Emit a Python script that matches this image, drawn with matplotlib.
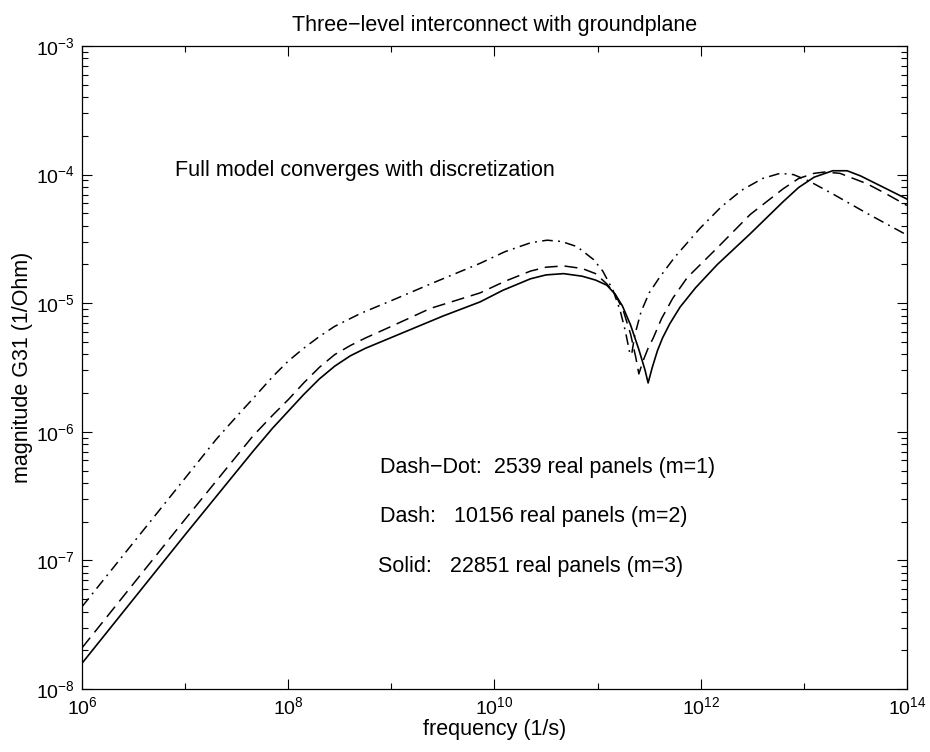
import numpy as np
import matplotlib
matplotlib.use("Agg")
import matplotlib.pyplot as plt
from matplotlib.ticker import LogLocator, NullFormatter, FixedLocator

# log10 of frequency (1/s) and log10 of |G31| (1/Ohm)
solid_logf = [6.0, 7.0, 7.66, 7.85, 8.0, 8.15, 8.3, 8.45, 8.6, 8.75, 8.9, 9.2, 9.5,
              9.86, 10.08, 10.35, 10.5, 10.67, 10.85, 10.98, 11.09, 11.17, 11.24,
              11.32, 11.4, 11.46, 11.49, 11.53, 11.58, 11.63, 11.7, 11.8, 11.95,
              12.16, 12.48, 12.8, 12.95, 13.1, 13.28, 13.42, 13.55, 13.75, 14.0]
solid_logg = [-7.8, -6.8, -6.15, -5.97, -5.84, -5.71, -5.59, -5.49, -5.41, -5.35, -5.3, -5.2, -5.1,
              -4.99, -4.9, -4.81, -4.78, -4.77, -4.79, -4.82, -4.86, -4.93, -5.02,
              -5.17, -5.36, -5.52, -5.62, -5.5, -5.37, -5.27, -5.16, -5.03, -4.88,
              -4.7, -4.46, -4.21, -4.1, -4.02, -3.97, -3.97, -4.01, -4.09, -4.19]

dash_logf = [6.0, 7.0, 7.66, 7.85, 8.0, 8.15, 8.3, 8.45, 8.6, 8.75, 9.0, 9.38, 9.86,
             10.1, 10.35, 10.5, 10.67, 10.85, 10.98, 11.09, 11.17, 11.25, 11.32, 11.37,
             11.4, 11.44, 11.49, 11.54, 11.62, 11.73, 11.87, 12.16, 12.48, 12.8,
             12.95, 13.1, 13.2, 13.35, 13.61, 13.8, 14.0]
dash_logg = [-7.68, -6.68, -6.03, -5.87, -5.75, -5.62, -5.5, -5.4, -5.33, -5.27, -5.18, -5.04, -4.92,
             -4.83, -4.75, -4.72, -4.71, -4.73, -4.77, -4.85, -4.93, -5.06, -5.24, -5.42,
             -5.55, -5.45, -5.35, -5.27, -5.12, -4.96, -4.8, -4.57, -4.31, -4.11,
             -4.03, -3.99, -3.98, -3.99, -4.07, -4.15, -4.24]

dashdot_logf = [6.0, 7.0, 7.3, 7.5, 7.66, 7.85, 8.0, 8.15, 8.3, 8.45, 8.7, 9.0, 9.38,
                9.86, 10.1, 10.35, 10.51, 10.65, 10.8, 10.96, 11.05, 11.15, 11.22, 11.27,
                11.31, 11.33, 11.36, 11.42, 11.5, 11.6, 11.75, 11.99, 12.2, 12.4,
                12.6, 12.77, 12.9, 13.05, 13.28, 13.61, 14.0]
dashdot_logg = [-7.36, -6.36, -6.06, -5.88, -5.74, -5.57, -5.45, -5.35, -5.26, -5.18, -5.08, -4.98, -4.85,
                -4.69, -4.6, -4.53, -4.51, -4.52, -4.56, -4.66, -4.75, -4.9, -5.06, -5.22,
                -5.38, -5.4, -5.25, -5.07, -4.92, -4.8, -4.64, -4.42, -4.25, -4.12,
                -4.03, -3.99, -4.0, -4.05, -4.15, -4.3, -4.47]

title = "Three\u2212level interconnect with groundplane"
note = "Full model converges with discretization"
labels = ["Dash\u2212Dot:  2539 real panels (m=1)",
          "Dash:   10156 real panels (m=2)",
          "Solid:   22851 real panels (m=3)"]

plt.rcParams['font.family'] = ['Liberation Sans', 'DejaVu Sans']
plt.rcParams['mathtext.fontset'] = 'custom'
plt.rcParams['mathtext.rm'] = 'Liberation Sans'
plt.rcParams['font.size'] = 15.5

fig = plt.figure(figsize=(9.3, 7.52), dpi=100)
ax = fig.add_axes([0.0882, 0.0838, 0.887, 0.855])

def to_lin(a):
    return 10.0 ** np.array(a)

ax.loglog(to_lin(dashdot_logf), to_lin(dashdot_logg), color='k', lw=1.1,
          linestyle=(0, (7, 3.5, 1.2, 3.5)))
ax.loglog(to_lin(dash_logf), to_lin(dash_logg), color='k', lw=1.1,
          linestyle=(0, (8.5, 4.5)))
ax.loglog(to_lin(solid_logf), to_lin(solid_logg), color='k', lw=1.2)

ax.set_xlim(1e6, 1e14)
ax.set_ylim(1e-8, 1e-3)

ax.xaxis.set_major_locator(FixedLocator([1e6, 1e8, 1e10, 1e12, 1e14]))
ax.xaxis.set_minor_locator(FixedLocator([1e7, 1e9, 1e11, 1e13]))
ax.xaxis.set_minor_formatter(NullFormatter())
ax.yaxis.set_major_locator(LogLocator(base=10, numticks=10))
ax.yaxis.set_minor_locator(LogLocator(base=10, subs=np.arange(2, 10), numticks=10))
ax.yaxis.set_minor_formatter(NullFormatter())

ax.tick_params(which='both', direction='in', top=True, right=True, labelsize=14)
ax.tick_params(which='major', length=7, width=0.8, pad=5)
ax.tick_params(which='minor', length=4, width=0.8)
for s in ax.spines.values():
    s.set_linewidth(0.9)

ax.set_title(title, fontsize=15.5, pad=11)
ax.set_xlabel("frequency (1/s)", fontsize=15.5, labelpad=1)
ax.set_ylabel("magnitude G31 (1/Ohm)", fontsize=15.5, labelpad=2)

ax.text(10 ** 6.9, 10 ** -3.966, note, ha='left', va='center', fontsize=15.5)
ax.text(10 ** 8.89, 10 ** -6.281, labels[0], ha='left', va='center', fontsize=15.5)
ax.text(10 ** 8.89, 10 ** -6.662, labels[1], ha='left', va='center', fontsize=15.5)
ax.text(10 ** 8.87, 10 ** -7.051, labels[2], ha='left', va='center', fontsize=15.5)

fig.savefig("out.png", dpi=100)
